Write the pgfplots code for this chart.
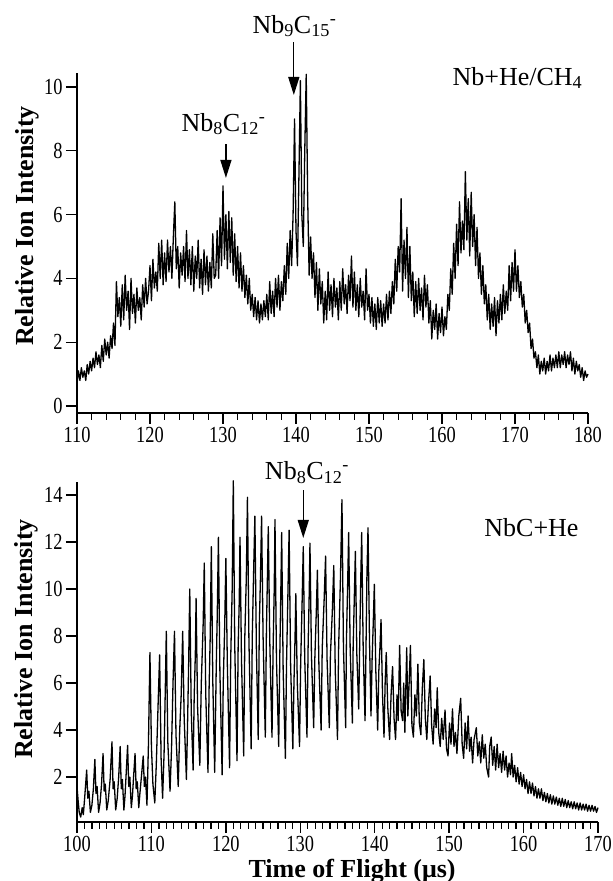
\documentclass[border=0pt]{standalone}
\usepackage{fontspec}
\setmainfont{Liberation Serif}
\newfontfamily\tickfont[FakeStretch=0.8]{Liberation Serif}
\usepackage{pgfplots}
\pgfplotsset{compat=1.18}
\usetikzlibrary{arrows.meta}

\pgfplotsset{
  tofstyle/.style={
    scale only axis,
    axis x line*=bottom, axis y line*=left,
    x axis line style={-}, y axis line style={-},
    tick align=outside,
    axis line style={line width=1.5pt, black},
    major tick length=11pt, minor tick length=7pt,
    every tick/.style={black, line width=1.3pt},
    minor y tick num=0,
    /pgf/number format/assume math mode=true,
    ticklabel style={font=\tickfont\fontsize{23}{26}\selectfont},
    label style={font=\fontsize{26}{30}\selectfont\bfseries},
    clip=false,
  },
  trace/.style={black, line width=1.3pt, line join=round, mark=none},
}
\tikzset{
  ann/.style={font=\fontsize{26}{30}\selectfont, anchor=base, inner sep=0pt},
  arr/.style={line width=1.3pt, -{Triangle[length=18pt,width=11pt]}},
}

\begin{document}
\begin{tikzpicture}
% ---------- top panel ----------
\begin{axis}[tofstyle,
  at={(77pt,468pt)}, anchor=south west,
  width=511pt, height=340pt,
  xmin=110, xmax=180, ymin=-0.22, ymax=10.44,
  xtick={110,120,...,180}, minor x tick num=4,
  ytick={0,2,...,10},
  ylabel={Relative Ion Intensity},
  ylabel style={at={(axis description cs:-0.086,0.55)}, anchor=base},
]
\addplot[trace] coordinates {
(110.0,0.7)(110.2,1.1)(110.4,0.8)(110.6,1.2)(110.8,0.9)
(111.0,1.1)(111.2,0.8)(111.4,1.3)(111.6,1.0)(111.8,1.4)
(112.0,1.1)(112.2,1.5)(112.4,1.2)(112.6,1.7)(112.8,1.3)
(113.0,1.6)(113.2,1.2)(113.4,1.9)(113.6,1.4)(113.8,2.1)
(114.0,1.6)(114.2,2.0)(114.4,1.5)(114.6,2.2)(114.8,1.8)
(115.0,2.6)(115.2,1.9)(115.4,3.9)(115.6,2.8)(115.8,3.4)
(116.0,2.5)(116.2,3.8)(116.4,2.7)(116.6,4.1)(116.8,3.0)
(117.0,3.6)(117.2,2.4)(117.4,4.0)(117.6,2.9)(117.8,3.5)
(118.0,2.6)(118.2,3.7)(118.4,3.0)(118.6,3.4)(118.8,2.7)
(119.0,3.8)(119.2,3.1)(119.4,4.0)(119.6,3.2)(119.8,3.6)
(120.0,4.4)(120.2,3.3)(120.4,4.6)(120.6,3.7)(120.8,4.2)
(121.0,3.6)(121.2,5.1)(121.4,4.0)(121.6,5.2)(121.8,3.8)
(122.0,4.8)(122.2,3.9)(122.4,5.2)(122.6,4.2)(122.8,5.0)
(123.0,4.0)(123.2,5.3)(123.4,6.4)(123.6,4.3)(123.8,5.0)
(124.0,3.7)(124.2,4.8)(124.4,4.1)(124.6,5.0)(124.8,3.9)
(125.0,5.5)(125.2,4.0)(125.4,4.9)(125.6,3.8)(125.8,5.0)
(126.0,3.6)(126.2,4.7)(126.4,4.0)(126.6,5.2)(126.8,3.7)
(127.0,4.6)(127.2,3.5)(127.4,4.9)(127.6,3.8)(127.8,4.7)
(128.0,3.6)(128.2,4.5)(128.4,3.7)(128.6,5.4)(128.8,4.0)
(129.0,4.1)(129.2,5.5)(129.4,4.0)(129.6,5.9)(129.8,4.4)
(130.0,6.9)(130.2,4.6)(130.4,6.0)(130.6,4.3)(130.8,6.1)
(131.0,4.5)(131.2,5.9)(131.4,4.1)(131.6,5.4)(131.8,3.9)
(132.0,5.0)(132.2,3.7)(132.4,4.8)(132.6,3.6)(132.8,4.4)
(133.0,3.4)(133.2,4.1)(133.4,3.2)(133.6,4.0)(133.8,3.0)
(134.0,3.5)(134.2,2.8)(134.4,3.4)(134.6,2.7)(134.8,3.3)
(135.0,2.6)(135.2,3.2)(135.4,2.7)(135.6,3.3)(135.8,2.8)
(136.0,3.5)(136.2,2.7)(136.4,3.9)(136.6,2.9)(136.8,3.6)
(137.0,2.8)(137.2,4.0)(137.4,3.1)(137.6,4.1)(137.8,3.0)
(138.0,3.9)(138.2,3.3)(138.4,4.4)(138.6,3.5)(138.8,5.1)
(139.0,4.0)(139.2,5.5)(139.4,4.4)(139.6,6.0)(139.8,9.0)
(140.0,5.5)(140.2,4.4)(140.4,7.2)(140.6,10.2)(140.8,6.0)
(141.0,5.0)(141.2,8.0)(141.4,10.4)(141.6,6.5)(141.8,4.1)
(142.0,5.3)(142.2,4.0)(142.4,4.8)(142.6,3.4)(142.8,4.5)
(143.0,3.0)(143.2,4.3)(143.4,3.2)(143.6,3.9)(143.8,2.6)
(144.0,3.6)(144.2,2.7)(144.4,4.2)(144.6,3.0)(144.8,3.8)
(145.0,2.8)(145.2,4.0)(145.4,3.1)(145.6,3.7)(145.8,2.7)
(146.0,3.9)(146.2,3.0)(146.4,4.3)(146.6,3.2)(146.8,3.8)
(147.0,2.9)(147.2,4.1)(147.4,3.3)(147.6,4.7)(147.8,3.1)
(148.0,4.2)(148.2,3.0)(148.4,3.8)(148.6,2.8)(148.8,4.0)
(149.0,3.1)(149.2,3.6)(149.4,2.7)(149.6,4.3)(149.8,3.0)
(150.0,3.5)(150.2,2.6)(150.4,3.4)(150.6,2.5)(150.8,3.2)
(151.0,2.4)(151.2,3.4)(151.4,2.6)(151.6,3.3)(151.8,2.5)
(152.0,3.2)(152.2,2.6)(152.4,3.5)(152.6,2.7)(152.8,3.6)
(153.0,2.9)(153.2,3.9)(153.4,3.2)(153.6,4.6)(153.8,3.6)
(154.0,5.0)(154.2,4.2)(154.4,6.5)(154.6,3.6)(154.8,5.2)
(155.0,4.0)(155.2,5.6)(155.4,3.4)(155.6,5.0)(155.8,3.3)
(156.0,4.2)(156.2,2.8)(156.4,3.9)(156.6,2.9)(156.8,4.0)
(157.0,3.0)(157.2,3.7)(157.4,2.7)(157.6,4.1)(157.8,3.1)
(158.0,3.8)(158.2,2.6)(158.4,3.3)(158.6,2.1)(158.8,3.0)
(159.0,2.4)(159.2,3.2)(159.4,2.1)(159.6,2.9)(159.8,2.3)
(160.0,3.1)(160.2,2.2)(160.4,2.8)(160.6,2.4)(160.8,3.5)
(161.0,3.0)(161.2,4.3)(161.4,3.5)(161.6,5.1)(161.8,4.0)
(162.0,5.7)(162.2,4.4)(162.4,6.4)(162.6,4.8)(162.8,5.8)
(163.0,4.9)(163.2,7.35)(163.4,5.2)(163.6,6.5)(163.8,4.7)
(164.0,6.7)(164.2,5.0)(164.4,6.0)(164.6,4.4)(164.8,5.6)
(165.0,4.0)(165.2,4.8)(165.4,3.5)(165.6,4.4)(165.8,3.2)
(166.0,3.8)(166.2,2.7)(166.4,3.5)(166.6,2.4)(166.8,3.2)
(167.0,2.5)(167.2,3.4)(167.4,2.2)(167.6,3.3)(167.8,2.6)
(168.0,3.5)(168.2,2.7)(168.4,3.8)(168.6,2.9)(168.8,3.6)
(169.0,3.0)(169.2,4.4)(169.4,3.3)(169.6,4.5)(169.8,3.6)
(170.0,4.9)(170.2,3.6)(170.4,4.4)(170.6,3.4)(170.8,3.9)
(171.0,3.1)(171.2,3.5)(171.4,2.6)(171.6,3.0)(171.8,2.3)
(172.0,2.6)(172.2,1.8)(172.4,2.1)(172.6,1.5)(172.8,1.7)
(173.0,1.2)(173.2,1.6)(173.4,1.0)(173.6,1.4)(173.8,1.1)
(174.0,1.5)(174.2,1.0)(174.4,1.4)(174.6,1.1)(174.8,1.6)
(175.0,1.1)(175.2,1.5)(175.4,1.2)(175.6,1.6)(175.8,1.2)
(176.0,1.7)(176.2,1.2)(176.4,1.6)(176.6,1.3)(176.8,1.7)
(177.0,1.2)(177.2,1.6)(177.4,1.3)(177.6,1.7)(177.8,1.1)
(178.0,1.5)(178.2,1.0)(178.4,1.4)(178.6,1.1)(178.8,1.3)
(179.0,0.9)(179.2,1.2)(179.4,0.8)(179.6,1.1)(179.8,0.9)
(180.0,1.0)
};
\node[ann] at (axis cs:139.8,11.69) {Nb\textsubscript{9}C\textsubscript{15}\textsuperscript{-}};
\draw[arr] (axis cs:139.7,11.41) -- (axis cs:139.7,9.75);
\node[ann] at (axis cs:130.07,8.62) {Nb\textsubscript{8}C\textsubscript{12}\textsuperscript{-}};
\draw[arr] (axis cs:130.4,8.21) -- (axis cs:130.4,7.15);
\node[ann] at (axis cs:170.34,10.06) {Nb+He/CH\textsubscript{4}};
\end{axis}

% ---------- bottom panel ----------
\begin{axis}[tofstyle,
  at={(77pt,59pt)}, anchor=south west,
  width=521pt, height=340pt,
  xmin=100, xmax=170, ymin=0.09, ymax=14.55,
  xtick={100,110,...,170}, minor x tick num=9,
  ytick={2,4,...,14},
  ylabel={Relative Ion Intensity},
  ylabel style={at={(axis description cs:-0.0845,0.538)}, anchor=base},
  xlabel={Time of Flight (μs)},
  xlabel style={at={(axis description cs:0.528,0)}, anchor=base, yshift=-55pt},
]
\addplot[trace] coordinates {
(100.0,1.6)(100.15,1.0)(100.3,0.5)(100.5,0.3)(100.7,0.7)(100.85,0.4)(101.05,1.2)(101.3,2.3)(101.45,1.1)(101.6,1.4)(101.8,0.5)
(102.0,0.8)(102.2,1.5)(102.4,2.75)(102.55,1.3)(102.7,1.6)(102.9,0.5)(103.1,0.9)(103.3,1.7)(103.5,3.0)(103.65,1.4)(103.8,1.7)
(104.0,0.6)(104.2,1.0)(104.45,1.9)(104.7,3.5)(104.85,1.5)(105.0,1.8)(105.2,0.6)(105.4,1.1)(105.6,2.0)(105.8,3.3)(105.95,1.5)
(106.1,1.9)(106.3,0.6)(106.45,1.2)(106.6,2.1)(106.8,3.35)(106.95,1.6)(107.1,2.0)(107.3,0.7)(107.45,1.2)(107.6,2.0)(107.8,3.0)
(107.95,1.5)(108.1,1.8)(108.3,0.7)(108.45,1.3)(108.65,2.0)(108.9,2.9)(109.05,1.6)(109.2,2.0)(109.4,0.8)(109.6,3.4)(109.8,7.3)
(110.0,3.3)(110.2,1.7)(110.45,0.9)(110.65,2.5)(110.85,4.6)
(111.1,7.2)(111.3,2.8)(111.5,1.1)(111.7,3.0)(111.85,5.5)
(112.0,8.2)(112.2,3.5)(112.5,1.4)(112.7,3.2)(112.9,6.0)
(113.1,8.2)(113.3,3.8)(113.6,1.6)(113.8,4.0)(114.0,5.5)
(114.2,8.2)(114.4,4.5)(114.7,1.9)(114.85,4.2)(115.0,6.8)
(115.15,10.0)(115.35,4.8)(115.6,2.3)(115.75,5.5)(115.9,7.2)
(116.0,9.6)(116.2,5.0)(116.5,2.5)(116.7,6.0)(116.95,8.5)
(117.1,11.1)(117.3,5.5)(117.6,2.2)(117.75,5.8)(117.9,8.0)
(118.05,11.8)(118.25,6.0)(118.5,2.2)(118.7,6.5)(118.85,9.0)
(119.0,12.2)(119.2,6.5)(119.5,2.1)(119.65,6.0)(119.85,8.5)
(120.0,11.3)(120.2,6.8)(120.5,2.4)(120.65,7.0)(120.85,10.0)
(121.0,14.6)(121.2,7.5)(121.5,2.7)(121.65,7.5)(121.8,9.5)
(121.9,12.2)(122.1,7.0)(122.4,2.9)(122.55,8.0)(122.75,10.5)
(122.9,13.9)(123.1,7.8)(123.4,3.2)(123.55,8.0)(123.75,11.0)
(123.9,13.1)(124.1,7.5)(124.35,3.6)(124.5,8.5)(124.65,10.5)
(124.8,13.1)(125.0,8.0)(125.3,3.7)(125.45,8.2)(125.6,10.8)
(125.7,12.65)(125.9,7.8)(126.2,3.7)(126.35,7.5)(126.5,10.0)
(126.6,12.95)(126.8,7.0)(127.1,3.3)(127.25,7.2)(127.4,10.2)
(127.5,12.4)(127.7,6.5)(128.0,2.8)(128.15,6.8)(128.35,10.0)
(128.5,12.5)(128.7,6.8)(129.0,3.2)(129.15,6.0)(129.3,8.0)
(129.4,9.8)(129.6,6.0)(129.9,3.3)(130.05,6.8)(130.25,9.5)
(130.4,11.8)(130.6,7.0)(130.9,3.7)(131.05,7.5)(131.2,9.8)
(131.3,11.95)(131.5,7.2)(131.8,4.1)(131.95,7.0)(132.15,9.0)
(132.3,10.8)(132.5,6.8)(132.8,4.0)(132.95,7.5)(133.2,9.5)
(133.4,11.4)(133.6,7.0)(133.9,4.1)(134.05,7.2)(134.3,9.0)
(134.5,11.0)(134.7,6.5)(135.0,3.6)(135.15,7.5)(135.4,10.5)
(135.6,13.8)(135.8,7.5)(136.1,4.1)(136.2,7.8)(136.35,10.0)
(136.5,12.4)(136.7,7.5)(137.0,4.3)(137.1,7.5)(137.25,9.5)
(137.4,11.6)(137.6,7.2)(137.85,4.9)(138.0,8.0)(138.1,10.0)
(138.25,12.4)(138.45,7.5)(138.7,4.4)(138.85,8.0)(138.95,10.5)
(139.1,12.6)(139.3,7.8)(139.5,4.6)(139.65,7.0)(139.8,8.5)
(139.95,10.2)(140.15,6.5)(140.4,4.0)(140.55,6.5)(140.7,7.5)
(140.85,8.7)(141.05,5.5)(141.25,3.7)(141.4,6.0)
(141.55,7.3)(141.75,5.0)(142.0,3.6)(142.2,5.5)
(142.4,6.7)(142.6,4.5)(142.8,3.6)(143.0,5.5)(143.15,4.4)
(143.35,7.6)(143.55,4.8)(143.75,4.4)(143.9,6.0)(144.05,3.9)
(144.3,7.5)(144.45,4.6)(144.6,5.8)(144.8,7.6)(145.0,4.2)(145.2,3.7)(145.4,5.5)
(145.6,4.6)(145.8,6.8)(146.0,4.3)(146.2,3.8)(146.4,5.8)(146.6,7.0)(146.8,4.5)(147.0,3.6)(147.2,5.0)
(147.45,6.3)(147.65,4.2)(147.85,3.4)(148.05,4.9)(148.25,4.1)(148.4,5.8)(148.6,3.9)(148.8,3.3)(149.0,4.5)
(149.2,3.6)(149.45,4.85)(149.65,3.2)(149.85,2.9)(150.05,4.3)(150.25,3.4)(150.45,4.9)(150.65,3.3)(150.85,3.9)
(151.05,3.0)(151.3,4.6)(151.55,5.35)(151.75,3.4)(151.95,2.8)(152.15,4.3)(152.35,3.2)(152.55,4.6)(152.75,3.1)
(152.95,3.7)(153.15,2.6)(153.35,3.6)(153.65,4.1)(153.85,2.9)(154.05,3.5)(154.25,2.6)(154.45,3.8)(154.65,2.8)
(154.85,3.4)(155.05,2.4)(155.3,2.0)(155.45,3.3)(155.65,3.7)(155.85,2.5)(156.05,3.3)(156.25,2.3)(156.45,3.4)
(156.65,2.4)(156.85,3.0)(157.05,2.2)(157.25,3.1)(157.45,2.3)(157.65,2.9)(157.85,2.0)(158.05,2.6)(158.25,2.1)
(158.4,3.0)(158.6,2.0)(158.8,2.5)(159.0,1.8)(159.2,2.4)(159.4,1.7)(159.6,2.2)(159.8,1.6)(160.0,2.1)
(160.2,1.5)(160.4,1.9)(160.6,1.3)(160.8,1.8)(161.0,1.3)(161.2,1.75)(161.4,1.2)(161.6,1.6)(161.8,1.1)
(162.0,1.5)(162.2,1.1)(162.4,1.5)(162.6,1.0)(162.8,1.35)(163.0,0.95)(163.2,1.3)(163.4,0.9)(163.6,1.25)
(163.8,0.85)(164.0,1.2)(164.2,0.85)(164.4,1.15)(164.6,0.8)(164.8,1.1)(165.0,0.75)(165.2,1.1)(165.4,0.75)
(165.6,1.05)(165.8,0.7)(166.0,1.0)(166.2,0.7)(166.4,0.95)(166.6,0.65)(166.8,0.95)(167.0,0.65)(167.2,0.9)
(167.4,0.6)(167.6,0.9)(167.8,0.6)(168.0,0.85)(168.2,0.6)(168.4,0.85)(168.6,0.55)(168.8,0.8)(169.0,0.55)
(169.2,0.8)(169.4,0.55)(169.6,0.75)(169.8,0.5)(170.0,0.7)
};
\node[ann] at (axis cs:130.9,14.64) {Nb\textsubscript{8}C\textsubscript{12}\textsuperscript{-}};
\draw[arr] (axis cs:130.4,14.2) -- (axis cs:130.4,12.17);
\node[ann] at (axis cs:161.06,12.23) {NbC+He};
\end{axis}

\pgfresetboundingbox
\path (0pt,0pt) rectangle (613pt,881pt);
\end{tikzpicture}
\end{document}
